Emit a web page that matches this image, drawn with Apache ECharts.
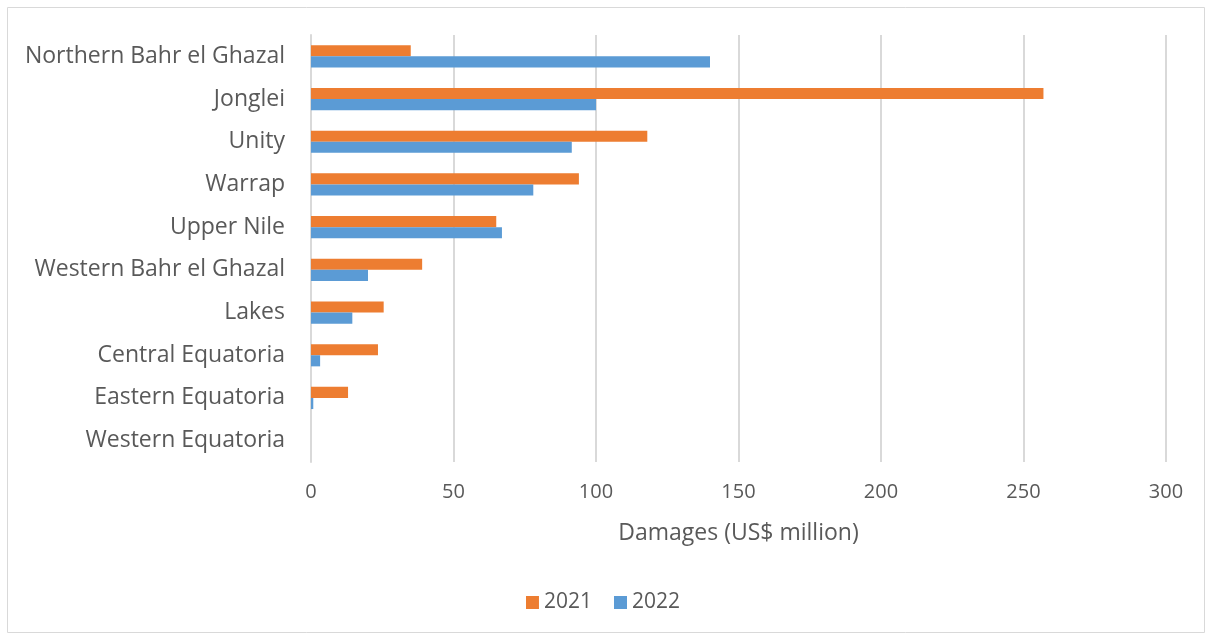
<!DOCTYPE html>
<html>
<head>
<meta charset="utf-8">
<script src="https://cdn.jsdelivr.net/npm/echarts@6/dist/echarts.min.js"></script>
<style>
html, body { margin: 0; padding: 0; background: #fff; }
#container { width: 1206px; height: 637px; }
</style>
</head>
<body>
<div id="container"></div>
<script>
var regions = ['Northern Bahr el Ghazal', 'Jonglei', 'Unity', 'Warrap', 'Upper Nile',
    'Western Bahr el Ghazal', 'Lakes', 'Central Equatoria', 'Eastern Equatoria', 'Western Equatoria'];
var damages2021 = [35, 257, 118, 94, 65, 39, 25.5, 23.5, 13, 0];
var damages2022 = [140, 100, 91.5, 78, 67, 20, 14.5, 3.2, 0.8, 0];
var xTicks = [0, 50, 100, 150, 200, 250, 300];

var dom = document.getElementById('container');
var myChart = echarts.init(dom);
var textColor = '#595959';
var font = 'Open Sans';

option = {
    animation: false,
    textStyle: { fontFamily: font },
    graphic: [{
        type: 'rect',
        shape: { x: 7.5, y: 7.5, width: 1197, height: 625 },
        style: { fill: 'none', stroke: '#d9d9d9', lineWidth: 1 }
    }],
    legend: {
        bottom: 19,
        left: 'center',
        itemWidth: 13,
        itemHeight: 13,
        itemGap: 22,
        icon: 'rect',
        textStyle: { color: textColor, fontSize: 21, fontFamily: font },
        data: ['2021', '2022']
    },
    grid: { left: 311, right: 40, top: 35, bottom: 175 },
    xAxis: {
        type: 'value',
        min: xTicks[0],
        max: xTicks[xTicks.length - 1],
        interval: 50,
        name: 'Damages (US$ million)',
        nameLocation: 'middle',
        nameGap: 60,
        nameTextStyle: { color: textColor, fontSize: 23, fontFamily: font },
        axisLine: { show: false },
        axisTick: { show: false },
        axisLabel: { color: textColor, fontSize: 20, margin: 20, fontFamily: font },
        splitLine: { show: true, lineStyle: { color: '#d9d9d9', width: 2 } }
    },
    yAxis: {
        type: 'category',
        inverse: true,
        data: regions,
        axisLine: { show: true, lineStyle: { color: '#d9d9d9', width: 2 } },
        axisTick: { show: false },
        axisLabel: { color: textColor, fontSize: 23, margin: 26, fontFamily: font }
    },
    series: [
        {
            name: '2021',
            type: 'bar',
            data: damages2021,
            itemStyle: { color: '#ed7d31' },
            barGap: '0%',
            barCategoryGap: '48%'
        },
        {
            name: '2022',
            type: 'bar',
            data: damages2022,
            itemStyle: { color: '#5b9bd5' },
            barGap: '0%',
            barCategoryGap: '48%'
        }
    ]
};

if (option && typeof option === 'object') {
    myChart.setOption(option, true);
}
</script>
</body>
</html>
